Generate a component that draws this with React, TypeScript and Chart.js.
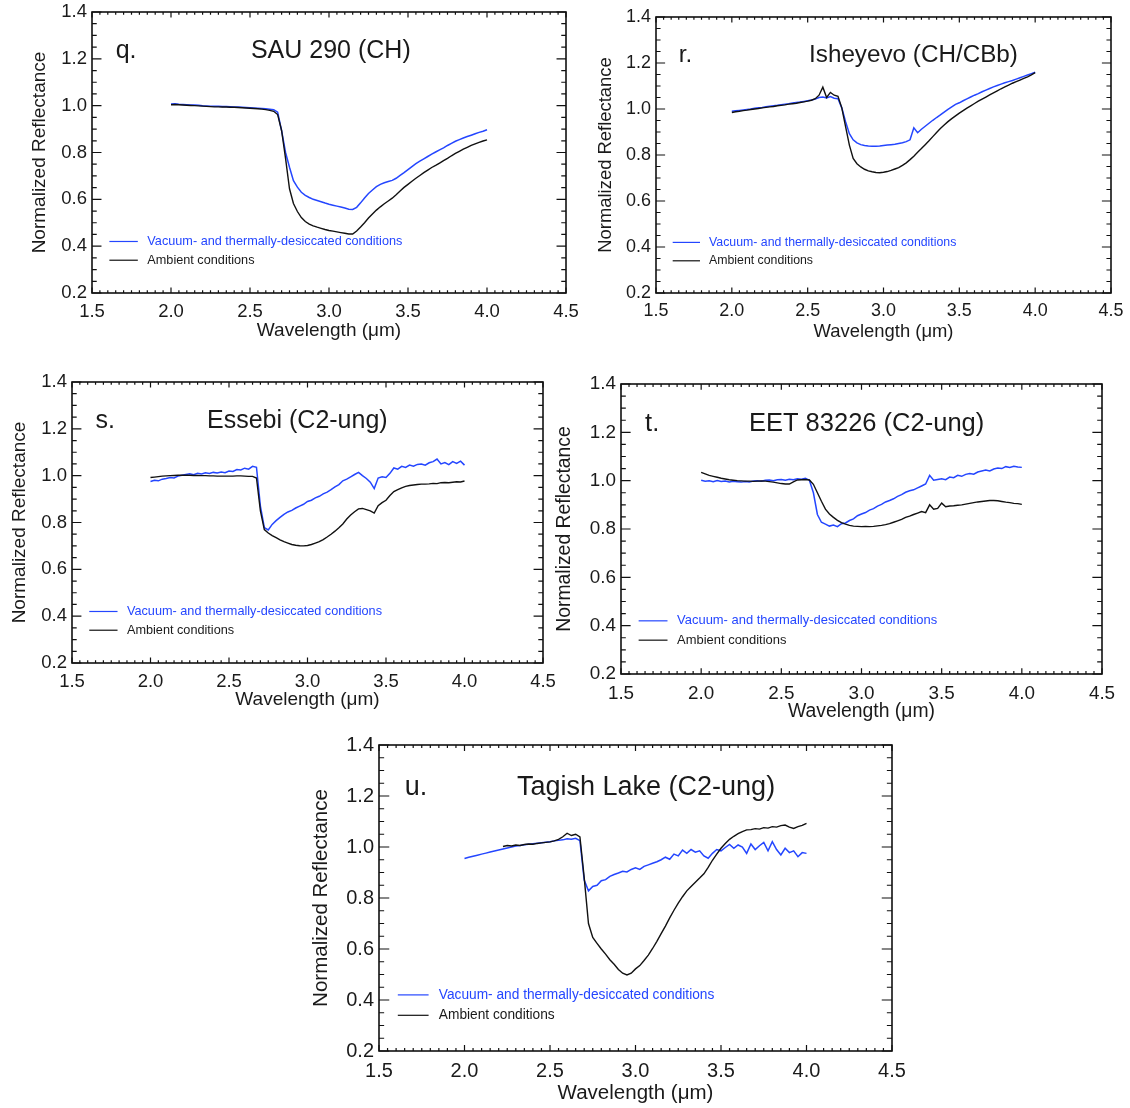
import React, { useEffect, useRef } from "react";
import { Chart, registerables } from "chart.js";

Chart.register(...registerables);

// ---------------- DATA ----------------
const wavelength = [
  2.0, 2.025, 2.05, 2.075, 2.1, 2.125, 2.15, 2.175, 2.2, 2.225,
  2.25, 2.275, 2.3, 2.325, 2.35, 2.375, 2.4, 2.425, 2.45, 2.475,
  2.5, 2.525, 2.55, 2.575, 2.6, 2.625, 2.65, 2.675, 2.7, 2.725,
  2.75, 2.775, 2.8, 2.825, 2.85, 2.875, 2.9, 2.925, 2.95, 2.975,
  3.0, 3.025, 3.05, 3.075, 3.1, 3.125, 3.15, 3.175, 3.2, 3.225,
  3.25, 3.275, 3.3, 3.325, 3.35, 3.375, 3.4, 3.425, 3.45, 3.475,
  3.5, 3.525, 3.55, 3.575, 3.6, 3.625, 3.65, 3.675, 3.7, 3.725,
  3.75, 3.775, 3.8, 3.825, 3.85, 3.875, 3.9, 3.925, 3.95, 3.975,
  4.0,
];

// q. SAU 290 (CH)
const qVacuum = [
  1.007, 1.008, 1.006, 1.005, 1.004, 1.003, 1.003, 1.002, 1.0, 0.999,
  0.998, 0.998, 0.997, 0.996, 0.996, 0.995, 0.994, 0.994, 0.993, 0.992,
  0.991, 0.99, 0.989, 0.988, 0.987, 0.985, 0.983, 0.972, 0.893, 0.8,
  0.737, 0.68, 0.652, 0.63, 0.617, 0.608, 0.6, 0.595, 0.59, 0.584,
  0.579, 0.575, 0.571, 0.567, 0.563, 0.558, 0.557, 0.566, 0.585, 0.606,
  0.625, 0.64, 0.654, 0.664, 0.671, 0.676, 0.681, 0.69, 0.702, 0.714,
  0.727, 0.74, 0.752, 0.763, 0.773, 0.783, 0.793, 0.802, 0.811, 0.82,
  0.83, 0.839, 0.848, 0.855, 0.862, 0.868, 0.874, 0.88, 0.886, 0.891,
  0.897,
];
const qAmbient = [
  1.004, 1.005, 1.004, 1.003, 1.002, 1.001, 1.0, 0.999, 0.998, 0.997,
  0.996, 0.995, 0.995, 0.994, 0.994, 0.993, 0.993, 0.992, 0.991, 0.99,
  0.989, 0.988, 0.987, 0.985, 0.983, 0.98, 0.976, 0.962, 0.894, 0.775,
  0.645, 0.582, 0.548, 0.522, 0.505, 0.494, 0.487, 0.481, 0.476, 0.471,
  0.467, 0.464, 0.461, 0.458, 0.455, 0.452, 0.452, 0.465, 0.482, 0.5,
  0.52, 0.537, 0.554, 0.568, 0.581, 0.593, 0.605, 0.62, 0.636, 0.651,
  0.664, 0.677, 0.69, 0.702, 0.714, 0.725, 0.736, 0.745, 0.755, 0.765,
  0.775, 0.786, 0.796, 0.805, 0.814, 0.822, 0.83, 0.837, 0.843, 0.849,
  0.854,
];

// r. Isheyevo (CH/CBb)
const rVacuum = [
  0.99, 0.992, 0.994, 0.996, 0.998, 1.0, 1.003, 1.005, 1.007, 1.01,
  1.012, 1.014, 1.016, 1.019, 1.021, 1.023, 1.026, 1.028, 1.03, 1.033,
  1.036, 1.039, 1.043, 1.05, 1.052, 1.048, 1.054, 1.047, 1.045, 1.005,
  0.945, 0.893, 0.866, 0.853, 0.845, 0.841, 0.839, 0.838, 0.838, 0.839,
  0.841, 0.843, 0.845, 0.847, 0.85, 0.853, 0.858, 0.866, 0.918, 0.897,
  0.912, 0.925, 0.938, 0.951, 0.963, 0.974, 0.986, 0.998, 1.009, 1.02,
  1.027, 1.036, 1.044, 1.052, 1.06, 1.067, 1.075, 1.082, 1.089, 1.096,
  1.102, 1.108, 1.114, 1.119, 1.124, 1.13, 1.136, 1.142, 1.148, 1.154,
  1.16,
];
const rAmbient = [
  0.985, 0.988, 0.99, 0.993, 0.995, 0.998, 1.0, 1.002, 1.005, 1.007,
  1.009, 1.011, 1.014, 1.016, 1.018, 1.021, 1.023, 1.025, 1.028, 1.031,
  1.034, 1.038, 1.045, 1.06, 1.095, 1.05, 1.072, 1.06, 1.055, 1.005,
  0.923, 0.843, 0.785, 0.762, 0.748, 0.738, 0.731, 0.727, 0.724, 0.723,
  0.725, 0.728, 0.733, 0.739, 0.745, 0.755, 0.766, 0.78, 0.795, 0.812,
  0.828, 0.845, 0.862, 0.88, 0.898, 0.915, 0.93, 0.945, 0.958, 0.97,
  0.982, 0.993, 1.004, 1.014, 1.024, 1.034, 1.043, 1.052, 1.061, 1.07,
  1.079, 1.088, 1.096, 1.104, 1.112, 1.119, 1.126, 1.133, 1.14, 1.148,
  1.158,
];

// s. Essebi (C2-ung)
const sVacuum = [
  0.975, 0.98, 0.978, 0.985, 0.988, 0.992, 0.99, 0.998, 1.002, 1.005,
  1.008, 1.004, 1.01, 1.007, 1.012, 1.009, 1.014, 1.011, 1.016, 1.013,
  1.02, 1.018, 1.026, 1.024, 1.032, 1.028, 1.04, 1.036, 0.87, 0.778,
  0.768, 0.792, 0.808, 0.822, 0.835, 0.845, 0.852, 0.862, 0.87, 0.878,
  0.89, 0.895, 0.905, 0.912, 0.922, 0.93, 0.94, 0.952, 0.962, 0.978,
  0.985, 0.995, 1.005, 1.014, 1.0, 0.988, 0.972, 0.945, 0.99, 0.995,
  0.992, 1.01, 1.033, 1.028, 1.04, 1.035, 1.045, 1.04, 1.048, 1.05,
  1.045, 1.055, 1.06, 1.071, 1.05, 1.056, 1.047, 1.06, 1.052, 1.062,
  1.045,
];
const sAmbient = [
  0.992, 0.994, 0.996, 0.998, 0.999, 1.0, 1.001, 1.002, 1.002, 1.002,
  1.002, 1.001, 1.001, 1.0, 1.0, 0.999, 0.999, 0.998, 0.998, 0.998,
  0.998, 0.998, 0.999, 0.999, 0.998, 0.997, 0.997, 0.99, 0.85, 0.77,
  0.755, 0.744, 0.735, 0.726, 0.718, 0.712, 0.706, 0.703, 0.701, 0.7,
  0.702, 0.706, 0.712, 0.718, 0.727, 0.738, 0.75, 0.763, 0.778, 0.794,
  0.815, 0.832, 0.846, 0.858, 0.86, 0.855, 0.85, 0.84, 0.872, 0.885,
  0.895, 0.915, 0.932, 0.94, 0.948, 0.954, 0.958, 0.96, 0.962, 0.964,
  0.964, 0.965, 0.967, 0.966, 0.97, 0.971, 0.97, 0.972, 0.974, 0.973,
  0.977,
];

// t. EET 83226 (C2-ung)
const tVacuum = [
  1.002, 0.998, 1.0, 0.996, 1.001, 0.997, 0.999, 0.995, 0.998, 0.996,
  0.994, 0.997, 0.995, 0.999, 1.0, 0.998, 1.002, 1.003, 1.0, 1.004,
  1.005, 1.002, 1.006, 1.004, 1.008, 1.006, 1.01, 1.002, 0.95, 0.86,
  0.828, 0.82, 0.812, 0.816, 0.81, 0.822, 0.825, 0.835, 0.842, 0.855,
  0.862, 0.868, 0.878, 0.884, 0.895, 0.902, 0.912, 0.918, 0.925, 0.935,
  0.942, 0.952, 0.958, 0.962, 0.97, 0.978, 0.986, 1.022, 1.002, 1.005,
  1.008, 1.004, 1.015, 1.012, 1.022, 1.018, 1.026, 1.03, 1.027, 1.036,
  1.04, 1.044, 1.04, 1.048, 1.052, 1.05, 1.058, 1.055, 1.06, 1.057,
  1.055,
];
const tAmbient = [
  1.034, 1.028, 1.022, 1.018, 1.014, 1.01, 1.007, 1.004, 1.002, 1.0,
  0.999, 0.998, 0.998, 0.997, 0.998, 0.999, 0.998, 0.996, 0.994, 0.991,
  0.988, 0.986, 0.986, 0.995, 1.003, 1.004, 1.005, 1.003, 0.985, 0.95,
  0.915, 0.882, 0.862, 0.848, 0.836, 0.826, 0.82, 0.815, 0.812, 0.811,
  0.81, 0.811, 0.81, 0.811, 0.813, 0.815, 0.818, 0.822, 0.828, 0.834,
  0.84, 0.848, 0.853, 0.86, 0.866, 0.872, 0.868, 0.9, 0.882, 0.885,
  0.907, 0.892, 0.895, 0.896, 0.898, 0.9, 0.903, 0.906, 0.909, 0.912,
  0.914, 0.916, 0.918, 0.918, 0.917, 0.914, 0.911, 0.909, 0.906, 0.905,
  0.902,
];

// u. Tagish Lake (C2-ung)
const uVacuum = [
  0.955, 0.96, 0.964, 0.968, 0.972, 0.976, 0.98, 0.984, 0.988, 0.992,
  0.996, 1.0, 1.004, 1.006, 1.009, 1.011, 1.013, 1.015, 1.017, 1.019,
  1.021, 1.024, 1.026, 1.028, 1.032, 1.03, 1.034, 1.025, 0.87, 0.828,
  0.845, 0.85, 0.868, 0.872, 0.885, 0.892, 0.898, 0.905, 0.902, 0.912,
  0.918, 0.912, 0.924, 0.93, 0.936, 0.942, 0.95, 0.96, 0.952, 0.972,
  0.965, 0.988, 0.975, 0.99, 0.98, 0.985, 0.965, 0.956, 0.975, 0.99,
  0.985, 0.998, 1.01, 0.995, 1.008, 1.0, 0.975, 1.012, 0.99, 1.005,
  1.018, 0.985, 1.021, 0.99, 0.969, 0.995, 0.978, 0.985, 0.962, 0.978,
  0.975,
];
const uAmbient = [
  null, null, null, null, null, null, null, null, null, 1.002,
  1.006, 1.004, 1.008, 1.006, 1.01, 1.012, 1.011, 1.014, 1.016, 1.018,
  1.02, 1.024, 1.03, 1.04, 1.054, 1.045, 1.05, 1.04, 0.88, 0.7,
  0.645, 0.622, 0.6, 0.58, 0.558, 0.54, 0.52, 0.505, 0.498, 0.505,
  0.522, 0.535, 0.555, 0.576, 0.602, 0.63, 0.66, 0.69, 0.722, 0.752,
  0.78, 0.805, 0.828, 0.845, 0.862, 0.878, 0.895, 0.92, 0.948, 0.972,
  0.995, 1.014, 1.03, 1.042, 1.052, 1.06, 1.067, 1.068, 1.072, 1.07,
  1.076, 1.074, 1.08, 1.078, 1.084, 1.086, 1.078, 1.073, 1.08, 1.085,
  1.093,
];

const vacuumSeries = [qVacuum, rVacuum, sVacuum, tVacuum, uVacuum];
const ambientSeries = [qAmbient, rAmbient, sAmbient, tAmbient, uAmbient];

const panelLetters = ["q.", "r.", "s.", "t.", "u."];
const panelTitles = [
  "SAU 290 (CH)",
  "Isheyevo (CH/CBb)",
  "Essebi (C2-ung)",
  "EET 83226 (C2-ung)",
  "Tagish Lake (C2-ung)",
];
const titleLeftX = [2.506, 2.509, 2.36, 2.298, 2.307];
const letterX = 1.65;
const titleY = 1.235;

const LEGEND_VACUUM = "Vacuum- and thermally-desiccated conditions";
const LEGEND_AMBIENT = "Ambient conditions";
const legendLineX = [1.61, 1.79];
const legendTextX = 1.85;
const legendY = [0.42, 0.34];

const X_TITLE = "Wavelength (\u03bcm)";
const Y_TITLE = "Normalized Reflectance";

// ---------------- STYLE / LAYOUT ----------------
const FAMILY = '"Liberation Sans", Arial, Helvetica, sans-serif';
const BLUE = "#2446ff";
const BLACK = "#111111";
const TEXT = "#1a1a1a";

type Lay = {
  cx: number; cy: number; w: number; h: number;
  L: number; T: number; R: number; B: number;
  yTitleX: number; xTitleY: number; k: number;
};

const layouts: Lay[] = [
  { cx: 0, cy: 0, w: 590, h: 350, L: 92, T: 12, R: 566, B: 293, yTitleX: 40, xTitleY: 331, k: 1.0 },
  { cx: 585, cy: 0, w: 545, h: 350, L: 656, T: 17, R: 1111, B: 293, yTitleX: 606, xTitleY: 332, k: 0.97 },
  { cx: 0, cy: 360, w: 560, h: 365, L: 72, T: 382, R: 543, B: 663, yTitleX: 20, xTitleY: 700, k: 1.0 },
  { cx: 548, cy: 360, w: 582, h: 370, L: 621, T: 384, R: 1102, B: 674, yTitleX: 565, xTitleY: 712, k: 1.02 },
  { cx: 290, cy: 725, w: 640, h: 383, L: 379, T: 745, R: 892, B: 1051, yTitleX: 321, xTitleY: 1093, k: 1.08 },
];

function makeFramePlugin(idx: number) {
  const k = layouts[idx].k;
  return {
    id: "idlFrame" + idx,
    afterDatasetsDraw(chart: any) {
      const { ctx, chartArea: a, scales } = chart;
      const x = scales.x;
      const y = scales.y;
      ctx.save();
      // frame
      ctx.strokeStyle = BLACK;
      ctx.lineWidth = 1.6;
      ctx.strokeRect(a.left, a.top, a.right - a.left, a.bottom - a.top);
      // inward ticks (IDL style)
      const xMaj = (a.bottom - a.top) * 0.02;
      const yMaj = (a.right - a.left) * 0.02;
      ctx.lineWidth = 1.2;
      ctx.beginPath();
      for (let m = 30; m <= 90; m++) {
        const px = x.getPixelForValue(m / 20);
        const len = m % 10 === 0 ? xMaj : xMaj / 2;
        ctx.moveTo(px, a.bottom);
        ctx.lineTo(px, a.bottom - len);
        ctx.moveTo(px, a.top);
        ctx.lineTo(px, a.top + len);
      }
      for (let m = 4; m <= 28; m++) {
        const py = y.getPixelForValue(m / 20);
        const len = m % 4 === 0 ? yMaj : yMaj / 2;
        ctx.moveTo(a.left, py);
        ctx.lineTo(a.left + len, py);
        ctx.moveTo(a.right, py);
        ctx.lineTo(a.right - len, py);
      }
      ctx.stroke();

      // panel letter and title
      ctx.fillStyle = TEXT;
      ctx.textBaseline = "middle";
      ctx.textAlign = "left";
      ctx.font = `${25 * k}px ${FAMILY}`;
      ctx.fillText(panelLetters[idx], x.getPixelForValue(letterX), y.getPixelForValue(titleY));
      ctx.fillText(panelTitles[idx], x.getPixelForValue(titleLeftX[idx]), y.getPixelForValue(titleY));

      // legend
      ctx.font = `${12.7 * k}px ${FAMILY}`;
      const lx0 = x.getPixelForValue(legendLineX[0]);
      const lx1 = x.getPixelForValue(legendLineX[1]);
      const tx = x.getPixelForValue(legendTextX);
      const entries = [
        { text: LEGEND_VACUUM, color: BLUE, y: legendY[0] },
        { text: LEGEND_AMBIENT, color: BLACK, y: legendY[1] },
      ];
      for (const e of entries) {
        const py = y.getPixelForValue(e.y);
        ctx.strokeStyle = e.color;
        ctx.lineWidth = 1.2;
        ctx.beginPath();
        ctx.moveTo(lx0, py);
        ctx.lineTo(lx1, py);
        ctx.stroke();
        ctx.fillStyle = e.color === BLUE ? BLUE : TEXT;
        ctx.fillText(e.text, tx, py);
      }
      ctx.restore();
    },
  };
}

function Panel({ idx }: { idx: number }) {
  const ref = useRef<HTMLCanvasElement | null>(null);
  const lay = layouts[idx];
  useEffect(() => {
    if (!ref.current) return;
    const k = lay.k;
    const tickSize = 18.5 * k;
    const axisSize = 19 * k;
    const axisLH = axisSize * 1.2;
    const vac = vacuumSeries[idx];
    const amb = ambientSeries[idx];
    const chart = new Chart(ref.current, {
      type: "line",
      data: {
        datasets: [
          {
            label: LEGEND_AMBIENT,
            data: wavelength.map((w, i) => ({ x: w, y: amb[i] as any })),
            borderColor: BLACK,
            borderWidth: 1.4,
            pointRadius: 0,
            tension: 0,
            spanGaps: false,
            order: 0,
          },
          {
            label: LEGEND_VACUUM,
            data: wavelength.map((w, i) => ({ x: w, y: vac[i] })),
            borderColor: BLUE,
            borderWidth: 1.5,
            pointRadius: 0,
            tension: 0,
            order: 1,
          },
        ],
      },
      options: {
        responsive: false,
        animation: false,
        events: [],
        layout: {
          padding: { left: 0, top: lay.T - lay.cy, right: lay.cx + lay.w - lay.R, bottom: 0 },
        },
        plugins: {
          legend: { display: false },
          tooltip: { enabled: false },
          title: { display: false },
        },
        scales: {
          x: {
            type: "linear",
            position: "bottom",
            min: 1.5,
            max: 4.5,
            grid: { display: false, drawTicks: false, tickLength: 0 },
            border: { display: false },
            ticks: {
              stepSize: 0.5,
              autoSkip: false,
              maxRotation: 0,
              padding: 8 * k,
              color: TEXT,
              font: { family: FAMILY, size: tickSize },
              callback: (v: any) => Number(v).toFixed(1),
            },
            title: {
              display: true,
              text: X_TITLE,
              color: TEXT,
              font: { family: FAMILY, size: axisSize },
              padding: { top: 0, bottom: lay.cy + lay.h - lay.xTitleY - axisLH / 2 },
            },
            afterFit: (s: any) => {
              s.height = lay.cy + lay.h - lay.B;
              s.paddingLeft = 0;
              s.paddingRight = 0;
            },
          },
          y: {
            type: "linear",
            position: "left",
            min: 0.2,
            max: 1.4,
            grid: { display: false, drawTicks: false, tickLength: 0 },
            border: { display: false },
            ticks: {
              stepSize: 0.2,
              autoSkip: false,
              padding: 5,
              color: TEXT,
              font: { family: FAMILY, size: tickSize },
              callback: (v: any) => Number(v).toFixed(1),
            },
            title: {
              display: true,
              text: Y_TITLE,
              color: TEXT,
              font: { family: FAMILY, size: axisSize },
              padding: { top: lay.yTitleX - lay.cx - axisLH / 2, bottom: 0 },
            },
            afterFit: (s: any) => {
              s.width = lay.L - lay.cx;
              s.paddingTop = 0;
              s.paddingBottom = 0;
            },
          },
        },
      } as any,
      plugins: [makeFramePlugin(idx)],
    });
    return () => chart.destroy();
  }, [idx]);

  return (
    <div style={{ position: "absolute", left: lay.cx, top: lay.cy, width: lay.w, height: lay.h }}>
      <canvas ref={ref} width={lay.w} height={lay.h} style={{ width: lay.w, height: lay.h, display: "block" }} />
    </div>
  );
}

export default function App() {
  return (
    <div
      style={{
        position: "absolute",
        left: 0,
        top: 0,
        width: 1130,
        height: 1108,
        background: "#ffffff",
        overflow: "hidden",
      }}
    >
      {layouts.map((_, i) => (
        <Panel key={i} idx={i} />
      ))}
    </div>
  );
}
